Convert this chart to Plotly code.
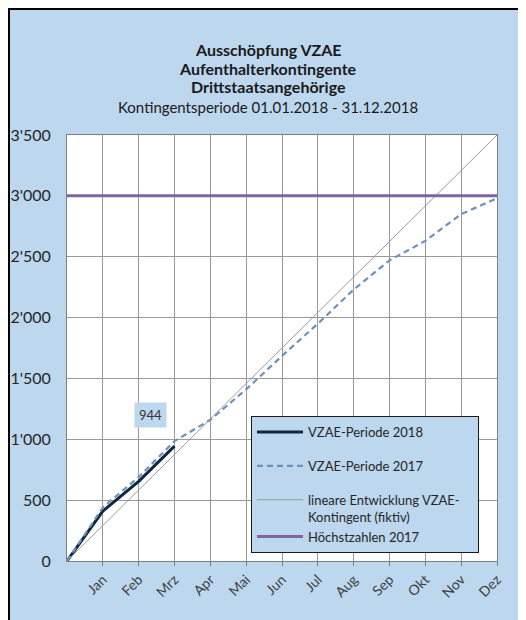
import plotly.graph_objects as go

months = ["Jan", "Feb", "Mrz", "Apr", "Mai", "Jun", "Jul", "Aug", "Sep", "Okt", "Nov", "Dez"]
x_all = list(range(0, 13))

vzae_2018 = [0, 410, 655, 944]
vzae_2017 = [0, 440, 690, 985, 1160, 1410, 1685, 1950, 2230, 2470, 2630, 2850, 2980]
linear = [0, 3500]
linear_x = [0, 12]
hoechst = [3000, 3000]
hoechst_x = [0, 12]

y_ticks = [0, 500, 1000, 1500, 2000, 2500, 3000, 3500]
y_labels = ["0", "500", "1'000", "1'500", "2'000", "2'500", "3'000", "3'500"]

BG = "#BDD7EE"
FONT = "Lato, 'Open Sans', sans-serif"
PAD = "<span style='color:rgba(0,0,0,0)'>xx</span>"

fig = go.Figure()
fig.add_trace(go.Scatter(x=x_all[:len(vzae_2018)], y=vzae_2018, mode="lines",
                         name="VZAE-Periode 2018", legendgroup="a",
                         line=dict(color="#0E2841", width=3)))
fig.add_trace(go.Scatter(x=x_all, y=vzae_2017, mode="lines",
                         name="VZAE-Periode 2017", legendgroup="b",
                         line=dict(color="#6B93BD", width=2.2, dash="6px,4px")))
fig.add_trace(go.Scatter(x=linear_x, y=linear, mode="lines",
                         name="lineare Entwicklung VZAE-" + PAD + "<br>Kontingent (fiktiv)", legendgroup="c",
                         line=dict(color="#9A9A9A", width=1)))
fig.add_trace(go.Scatter(x=hoechst_x, y=hoechst, mode="lines",
                         name="Höchstzahlen 2017", legendgroup="c",
                         line=dict(color="#8064A2", width=3)))

# screen px -> paper coords (figure is drawn at an 8px offset in the window)
def px_x(p):
    return (p - 67) / 430.0

def px_y(p):
    return (561 - p) / 426.0

shapes = [
    dict(type="rect", xref="paper", yref="paper", x0=px_x(9), x1=px_x(533), y0=px_y(627), y1=px_y(9),
         line=dict(color="black", width=2), fillcolor="rgba(0,0,0,0)", layer="above"),
]

annotations = []
titles = [("<b>Ausschöpfung VZAE</b>", 50, 16), ("<b>Aufenthalterkontingente</b>", 68, 16),
          ("<b>Drittstaatsangehörige</b>", 87, 16), ("Kontingentsperiode 01.01.2018 - 31.12.2018", 107, 15)]
for txt, yp, sz in titles:
    annotations.append(dict(text=txt, xref="paper", yref="paper", x=px_x(268), y=px_y(yp),
                            xanchor="center", yanchor="middle", showarrow=False,
                            font=dict(family=FONT, size=sz, color="#1a1a1a")))
annotations.append(dict(text="944", x=2.34, y=1200, xref="x", yref="y", showarrow=False,
                        bgcolor="#BDD7EE", borderpad=4,
                        font=dict(family=FONT, size=13, color="#333333")))

fig.update_layout(
    width=526, height=620,
    margin=dict(l=59, r=37, t=127, b=67, autoexpand=False),
    paper_bgcolor=BG, plot_bgcolor="white",
    font=dict(family=FONT, color="#404040"),
    shapes=shapes, annotations=annotations,
    showlegend=True,
    legend=dict(x=px_x(251), y=px_y(416), xanchor="left", yanchor="top",
                bgcolor=BG, bordercolor="#1a1a1a", borderwidth=1,
                traceorder="grouped", tracegroupgap=14, valign="top",
                font=dict(family=FONT, size=13, color="#262626"),
                itemwidth=46),
    xaxis=dict(range=[0, 12], tickmode="array", tickvals=list(range(1, 13)), ticktext=months,
               tickangle=-45, showgrid=True, gridcolor="#999999", gridwidth=1,
               showline=True, linecolor="#7F7F7F", linewidth=1, mirror=True,
               ticks="outside", ticklen=4, tickcolor="#7F7F7F", automargin=False,
               tickfont=dict(family=FONT, size=14, color="#404040"), zeroline=False),
    yaxis=dict(range=[0, 3500], tickmode="array", tickvals=y_ticks, ticktext=y_labels,
               showgrid=True, gridcolor="#999999", gridwidth=1,
               showline=True, linecolor="#7F7F7F", linewidth=1, mirror=True,
               ticks="", ticklabelstandoff=12, automargin=False,
               tickfont=dict(family=FONT, size=16, color="#262626"), zeroline=False),
)

fig.write_html("out.html")
